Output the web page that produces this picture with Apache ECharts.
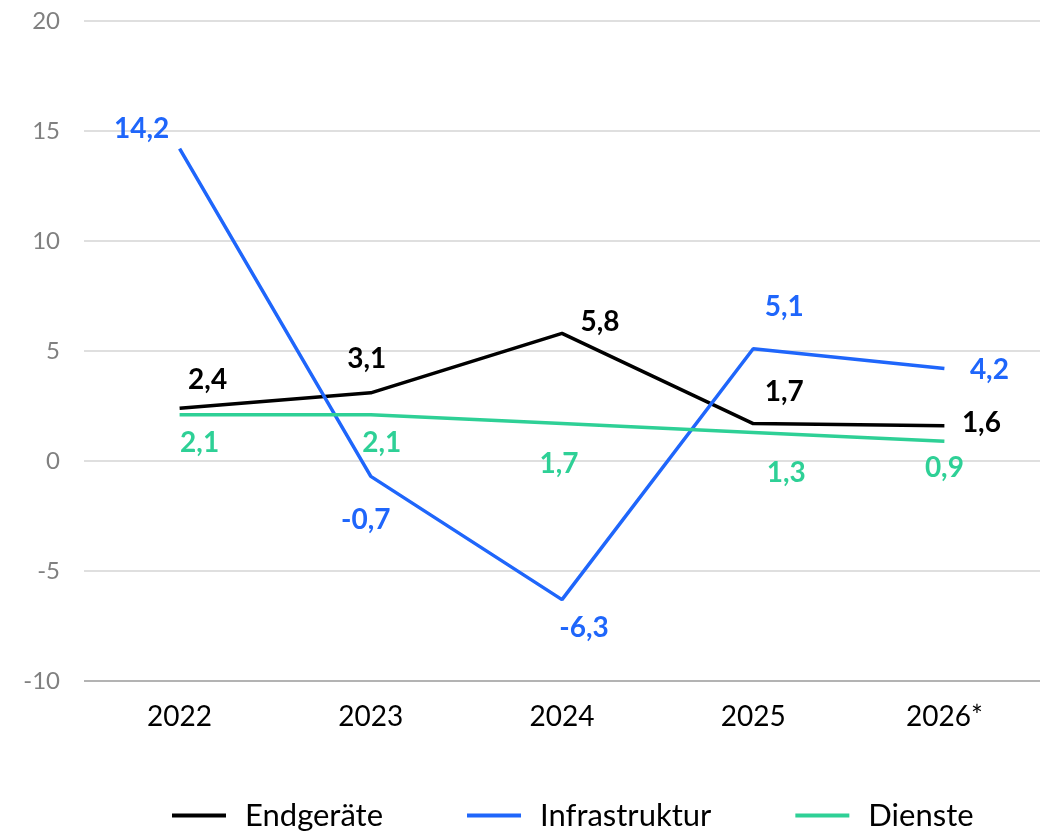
<!DOCTYPE html>
<html>
<head>
<meta charset="utf-8">
<script src="https://cdn.jsdelivr.net/npm/echarts@6/dist/echarts.min.js"></script>
<style>html,body{margin:0;padding:0;background:#fff}#c{width:1040px;height:832px}</style>
</head>
<body>
<div id="c"></div>
<script>
const categories = ['2022', '2023', '2024', '2025', '2026*'];
const yTicks = [-10, -5, 0, 5, 10, 15, 20];
const endgeraete = [2.4, 3.1, 5.8, 1.7, 1.6];
const infrastruktur = [14.2, -0.7, -6.3, 5.1, 4.2];
const dienste = [2.1, 2.1, 1.7, 1.3, 0.9];
const seriesNames = ['Endgeräte', 'Infrastruktur', 'Dienste'];

const colors = ['#000000', '#1f66fb', '#2ed096'];
const FONT = 'Lato';

// label offsets (style only)
const offsets = [
  [[28,-28],[-4,-34],[38,-11],[31,-32],[37,-3]],
  [[-38,-20],[-5,44],[22,28],[31,-42],[45,1]],
  [[20,28],[11,28],[-3,40],[33,41],[0,27]]
];
const fmt = v => String(v.toFixed(1)).replace('.', ',');

function mkSeries(name, values, idx) {
  return {
    name: name,
    type: 'line',
    data: values.map((v, i) => ({
      value: v,
      label: { offset: offsets[idx][i] }
    })),
    symbol: 'circle',
    symbolSize: 0,
    showSymbol: true,
    lineStyle: { color: colors[idx], width: 3.5 },
    itemStyle: { color: colors[idx] },
    label: {
      show: true,
      position: 'inside',
      formatter: p => fmt(p.value),
      color: colors[idx],
      fontFamily: FONT,
      fontWeight: 'bold',
      fontSize: 28
    },
    emphasis: { disabled: true },
    animation: false
  };
}

const chart = echarts.init(document.getElementById('c'));
chart.setOption({
  animation: false,
  grid: { left: 84, right: -4, top: 21, bottom: 151 },
  legend: {
    bottom: -4,
    left: 167,
    itemWidth: 54,
    itemHeight: 4,
    itemGap: 84,
    icon: 'rect',
    textStyle: { fontFamily: FONT, fontSize: 31, color: '#000', padding: [0, 0, 0, 14] },
    data: seriesNames.map((n, i) => ({ name: n, itemStyle: { color: colors[i] } }))
  },
  xAxis: {
    type: 'category',
    data: categories,
    boundaryGap: true,
    axisLine: { show: false },
    axisTick: { show: false },
    axisLabel: { fontFamily: FONT, fontSize: 28, color: '#000', margin: 22 }
  },
  yAxis: {
    type: 'value',
    min: yTicks[0],
    max: yTicks[yTicks.length - 1],
    interval: 5,
    axisLine: { show: false },
    axisTick: { show: false },
    axisLabel: { fontFamily: FONT, fontSize: 24, color: '#808080', margin: 24 },
    splitLine: {
      lineStyle: {
        color: yTicks.map(t => t === yTicks[0] ? '#9a9a9a' : '#d4d4d4'),
        width: 1.5
      }
    }
  },
  series: [
    mkSeries(seriesNames[0], endgeraete, 0),
    mkSeries(seriesNames[1], infrastruktur, 1),
    mkSeries(seriesNames[2], dienste, 2)
  ]
});
</script>
</body>
</html>
